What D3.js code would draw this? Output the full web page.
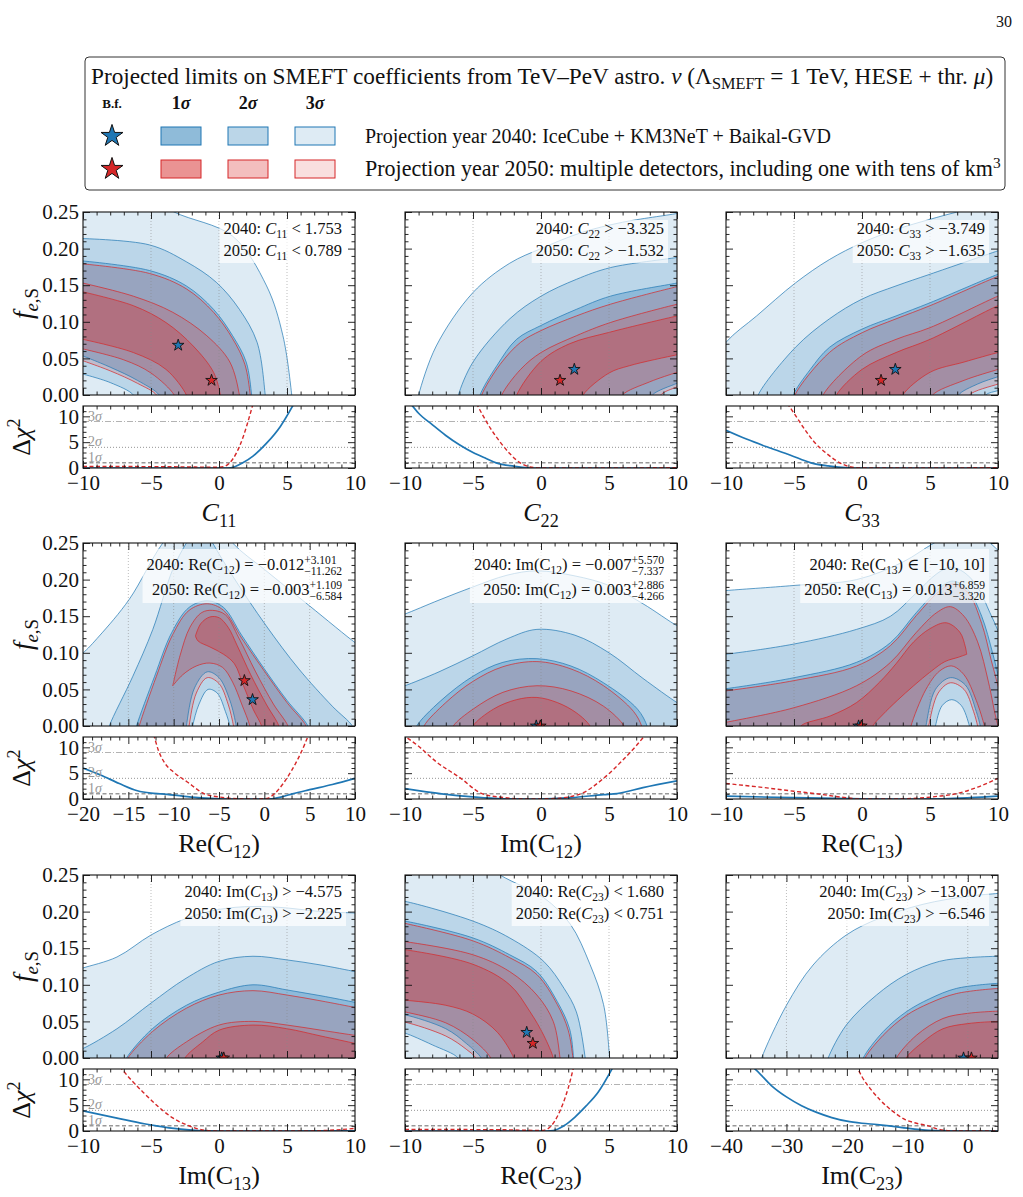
<!DOCTYPE html>
<html>
<head>
<meta charset="utf-8">
<script src="https://cdn.jsdelivr.net/npm/d3@7"></script>
<style>
  body { margin: 0; background: #fff; }
  svg text { font-family: "Liberation Serif", "DejaVu Serif", serif; white-space: pre; }
</style>
</head>
<body>
<script>
// ---- data: contour boundaries [coef, f_eS] ----
// u = upper boundary, l = lower boundary of each confidence region
const c11_b3u = [[-10.5,0.30],[-6,0.28],[-3.3,0.25],[1.0,0.217],[3.5,0.149],[4.7,0.081],[5.35,0],[5.4,-0.01]];
const c11_b2u = [[-10.5,0.214],[-5.1,0.205],[-2.4,0.182],[-0.2,0.154],[1.5,0.117],[2.8,0.072],[3.4,0],[3.45,-0.01]];
const c11_b2l = [[-10.5,0.031],[-8,0.017],[-6.3,0],[-6.2,-0.01]];
const c11_b1u = [[-10.5,0.184],[-5.1,0.17],[-2.4,0.149],[-0.4,0.117],[1.0,0.081],[2.0,0.045],[2.4,0],[2.45,-0.01]];
const c11_b1l = [[-10.5,0.057],[-8,0.038],[-6,0.02],[-4.4,0],[-4.3,-0.01]];
const c11_r3u = [[-10.5,0.18],[-5.1,0.166],[-2.4,0.145],[-0.4,0.113],[1.0,0.077],[1.9,0.042],[2.3,0],[2.35,-0.01]];
const c11_r3l = [[-10.5,0.05],[-8,0.033],[-6,0.016],[-4.6,0],[-4.5,-0.01]];
const c11_r2u = [[-10.5,0.155],[-6.3,0.135],[-3.4,0.113],[-0.9,0.081],[0.8,0.045],[1.5,0],[1.55,-0.01]];
const c11_r2l = [[-10.5,0.065],[-7,0.048],[-5,0.03],[-3.3,0],[-3.2,-0.01]];
const c11_r1u = [[-10.5,0.143],[-6.3,0.122],[-3.9,0.099],[-1.9,0.067],[-0.4,0.031],[0.1,0],[0.15,-0.01]];
const c11_r1l = [[-10.5,0.078],[-6.3,0.058],[-3.9,0.035],[-2.4,0],[-2.3,-0.01]];
const c11_star = [[-3.0,0.068],[-0.55,0.02]];
const c11_chiB = [[-10,0],[0.6,0],[1.2,0.3],[1.75,1],[2.5,2.3],[3.5,4.8],[4.5,8],[5.5,12.4]];
const c11_chiR = [[-10,0.3],[-4,0.25],[0,0.15],[0.4,0.3],[0.79,1],[1.3,3],[1.8,6.2],[2.2,9.6],[2.5,12.4]];

const c22_b3u = [[-9.1,-0.01],[-9.0,0],[-7.7,0.067],[-5,0.14],[-2.3,0.18],[0,0.2],[3,0.222],[6,0.236],[10,0.248],[10.5,0.25]];
const c22_b2u = [[-6.15,-0.01],[-6.07,0],[-5,0.045],[-2.3,0.104],[0,0.135],[2.6,0.158],[5.1,0.174],[10,0.188],[10.5,0.19]];
const c22_b1u = [[-4.55,-0.01],[-4.48,0],[-3.25,0.04],[-1.8,0.076],[0,0.095],[2.6,0.117],[5.1,0.135],[10,0.153],[10.5,0.155]];
const c22_b1l = [[8.1,-0.01],[8.2,0],[10,0.016],[10.5,0.02]];
const c22_r3u = [[-4.45,-0.01],[-4.36,0],[-3,0.042],[-1.5,0.072],[0,0.088],[2.6,0.108],[5.1,0.124],[10,0.148],[10.5,0.15]];
const c22_r3l = [[8.7,-0.01],[8.8,0],[10,0.011],[10.5,0.014]];
const c22_r2u = [[-2.95,-0.01],[-2.88,0],[-1.5,0.035],[0,0.058],[2.6,0.081],[5.1,0.099],[10,0.124],[10.5,0.126]];
const c22_r2l = [[5.9,-0.01],[6.0,0],[8,0.018],[10,0.031],[10.5,0.034]];
const c22_r1u = [[-1.85,-0.01],[-1.78,0],[0,0.046],[2.1,0.07],[5.1,0.086],[10,0.108],[10.5,0.11]];
const c22_r1l = [[3.0,-0.01],[3.1,0],[5,0.03],[6.5,0.04],[10,0.055],[10.5,0.057]];
const c22_star = [[2.45,0.035],[1.4,0.02]];
const c22_chiB = [[-9.6,12.5],[-9,10.6],[-8,8.4],[-7,6.3],[-6,4.5],[-5,3.0],[-4,1.8],[-3.3,1.0],[-2,0.35],[-1,0.05],[0,0],[10,0]];
const c22_chiR = [[-4.75,12.5],[-4.3,10.3],[-3.7,7.6],[-3,5],[-2.3,2.8],[-1.53,1.0],[-0.8,0.2],[0,0],[10,0.05]];

const c33_b3u = [[-12.5,-0.01],[-11.8,0.02],[-10,0.072],[-7.75,0.108],[-4.9,0.153],[-2.4,0.185],[0,0.208],[2.5,0.226],[5,0.24],[7,0.25],[10.5,0.265]];
const c33_b2u = [[-7.7,-0.01],[-7.63,0],[-4.9,0.065],[-2.4,0.104],[0,0.131],[2.5,0.149],[5,0.165],[10,0.197],[10.5,0.2]];
const c33_b2l = [[9.0,-0.01],[9.1,0],[10,0.006],[10.5,0.009]];
const c33_b1u = [[-5.1,-0.01],[-5.05,0],[-3.8,0.035],[-2.4,0.065],[0,0.09],[2.5,0.108],[5,0.126],[10,0.165],[10.5,0.168]];
const c33_b1l = [[7.0,-0.01],[7.1,0],[8.5,0.015],[10,0.025],[10.5,0.028]];
const c33_r3u = [[-5.0,-0.01],[-4.93,0],[-2.4,0.058],[0,0.085],[2.5,0.104],[5,0.122],[10,0.162],[10.5,0.165]];
const c33_r3l = [[7.8,-0.01],[7.9,0],[10,0.015],[10.5,0.018]];
const c33_r2u = [[-2.9,-0.01],[-2.85,0],[0,0.054],[2.5,0.076],[5,0.092],[10,0.135],[10.5,0.138]];
const c33_r2l = [[5.1,-0.01],[5.2,0],[7.5,0.02],[10,0.035],[10.5,0.038]];
const c33_r1u = [[-1.95,-0.01],[-1.87,0],[0,0.035],[2.5,0.058],[5,0.076],[10,0.122],[10.5,0.125]];
const c33_r1l = [[2.9,-0.01],[3.0,0],[5,0.031],[7.5,0.045],[10,0.058],[10.5,0.06]];
const c33_star = [[2.45,0.035],[1.4,0.02]];
const c33_chiB = [[-10,7.3],[-8.5,5.6],[-7,4.1],[-5.5,2.7],[-4.5,1.7],[-3.75,1.0],[-2.5,0.4],[-1,0.05],[0,0],[10,0]];
const c33_chiR = [[-5.5,12.5],[-5,10.6],[-4.3,7.8],[-3.5,5],[-2.6,2.8],[-1.63,1.0],[-0.8,0.2],[0,0],[10,0.05]];

const rc12_b3u = [[-20.5,0.097],[-20,0.100],[-18.2,0.123],[-14.9,0.173],[-11.2,0.25],[-7,0.31],[-3.5,0.25],[0,0.214],[5,0.164],[10,0.114],[10.5,0.11]];
const rc12_b2u = [[-17.3,-0.01],[-17.1,0],[-14.5,0.068],[-12.3,0.132],[-10.1,0.214],[-8.6,0.25],[-7,0.28],[-5.7,0.25],[-3.5,0.205],[0.2,0.137],[3.8,0.078],[7.5,0.027],[9.7,0],[9.9,-0.01]];
const rc12_b2l = [[-8.0,-0.01],[-7.9,0],[-7.2,0.03],[-6.2,0.05],[-5.2,0.045],[-4.3,0.02],[-3.8,0],[-3.7,-0.01]];
const rc12_b1u = [[-14.3,-0.01],[-14.1,0],[-12.1,0.068],[-10.2,0.128],[-8.3,0.162],[-6.3,0.171],[-4.5,0.162],[-2.5,0.124],[0,0.078],[2.5,0.035],[4.8,0],[4.9,-0.01]];
const rc12_b1l = [[-8.7,-0.01],[-8.6,0],[-7.7,0.052],[-6.3,0.074],[-5.0,0.066],[-3.8,0.035],[-3.1,0],[-3.0,-0.01]];
const rc12_r3u = [[-14.0,-0.01],[-13.8,0],[-11.9,0.068],[-10.1,0.125],[-8.3,0.158],[-6.3,0.167],[-4.5,0.158],[-2.5,0.12],[0,0.075],[2.5,0.032],[4.6,0],[4.7,-0.01]];
const rc12_r3l = [[-8.4,-0.01],[-8.3,0],[-7.5,0.045],[-6.3,0.066],[-5.0,0.058],[-4.0,0.03],[-3.4,0],[-3.3,-0.01]];
const rc12_r2u = [[-10.1,0.055],[-9.3,0.096],[-8.2,0.135],[-6.9,0.155],[-5.7,0.158],[-4.3,0.152],[-2.8,0.12],[-1.0,0.075],[1.0,0.03],[2.6,0],[2.7,-0.01]];
const rc12_r2l = [[-10.1,0.055],[-9.0,0.07],[-7.5,0.082],[-6.0,0.086],[-4.6,0.08],[-3.5,0.06],[-2.5,0.03],[-1.6,0],[-1.5,-0.01]];
const rc12_r1u = [[-7.6,0.123],[-7.0,0.14],[-6.0,0.149],[-5.0,0.148],[-4.0,0.135],[-3.0,0.11],[-1.5,0.07],[0.2,0.03],[1.6,0],[1.7,-0.01]];
const rc12_r1l = [[-7.6,0.123],[-7.3,0.116],[-6.0,0.108],[-4.5,0.098],[-3.3,0.085],[-2.3,0.055],[-1.2,0.022],[-0.3,0],[-0.2,-0.01]];
const rc12_star = [[-1.3,0.036],[-2.2,0.062]];
const rc12_chiB = [[-20,6.0],[-18,4.6],[-16,3.0],[-14,1.6],[-12.5,1.15],[-11.3,1.0],[-9,0.55],[-7,0.2],[-5,0.03],[-2,0],[0.5,0],[2,0.45],[3.1,1.0],[5,1.8],[7.5,2.8],[10,4.0]];
const rc12_chiR = [[-12.2,12.5],[-11.7,9.5],[-11,7],[-10,5.2],[-8.5,3.3],[-6.6,1.0],[-5,0.4],[-3,0.05],[-1,0],[0.3,0.1],[1.1,1.0],[2,2.8],[3,5.5],[4,8.8],[4.9,12.5]];

const ic12_b3u = [[-10.5,0.15],[-10,0.153],[-7.5,0.172],[-5,0.19],[-2.5,0.206],[-0.3,0.212],[2.5,0.205],[5,0.192],[7.5,0.167],[10,0.137],[10.5,0.133]];
const ic12_b2u = [[-10.5,0.052],[-10,0.055],[-7.5,0.074],[-5,0.096],[-2.5,0.119],[-0.3,0.132],[2.5,0.124],[5,0.1],[7.5,0.065],[10,0.032],[10.5,0.027]];
const ic12_b1u = [[-9.3,-0.01],[-9.14,0],[-7.4,0.034],[-5,0.068],[-2.8,0.087],[-0.3,0.092],[2.2,0.082],[4.6,0.059],[7.1,0.023],[7.8,0],[7.9,-0.01]];
const ic12_r3u = [[-8.7,-0.01],[-8.6,0],[-7,0.032],[-5,0.061],[-2.8,0.081],[-0.3,0.088],[2.2,0.078],[4.6,0.055],[6.8,0.02],[7.4,0],[7.5,-0.01]];
const ic12_r2u = [[-6.6,-0.01],[-6.45,0],[-5,0.023],[-2.8,0.046],[-0.3,0.055],[2.2,0.048],[4.6,0.027],[6.1,0],[6.2,-0.01]];
const ic12_r1u = [[-5.1,-0.01],[-5,0],[-3.5,0.023],[-1.8,0.036],[-0.3,0.039],[1.2,0.032],[2.6,0.018],[3.6,0],[3.7,-0.01]];
const ic12_star = [[-0.35,0.0],[-0.05,0.0]];
const ic12_chiB = [[-10,2.0],[-7.3,1.0],[-5,0.4],[-2.8,0.05],[-0.3,0],[2.2,0.25],[4.6,0.85],[5.6,1.05],[7.5,2.2],[10,3.5]];
const ic12_chiR = [[-10.2,12.5],[-9,10.2],[-7.7,7.2],[-6,4.2],[-4.3,1.0],[-2.8,0.3],[-1,0],[1,0.1],[2.9,1.0],[4.6,4.0],[6,7.5],[7,10.3],[7.7,12.5]];

const rc13_b3u = [[-10.5,0.184],[-10,0.185],[-5,0.192],[-0.4,0.2],[3,0.224],[5.3,0.25],[7,0.265],[9,0.255],[10,0.24],[10.5,0.23]];
const rc13_b2u = [[-10.5,0.097],[-10,0.098],[-5,0.112],[-0.4,0.132],[2.1,0.15],[4,0.182],[5.5,0.208],[6.5,0.217],[7.5,0.21],[8.5,0.19],[9.4,0.155],[10,0.13],[10.5,0.1]];
const rc13_b2l = [[5.3,-0.01],[5.4,0],[5.9,0.028],[6.6,0.036],[7.3,0.028],[7.9,0],[8.0,-0.01]];
const rc13_b1u = [[-10.5,0.05],[-10,0.051],[-5,0.066],[-0.4,0.087],[2.1,0.114],[4,0.155],[5.8,0.19],[6.7,0.198],[7.8,0.186],[8.8,0.15],[9.6,0.1],[10,0.07],[10.5,0.03]];
const rc13_b1l = [[4.6,-0.01],[4.7,0],[5.4,0.05],[6.5,0.066],[7.6,0.056],[8.4,0.02],[8.7,0],[8.8,-0.01]];
const rc13_r3u = [[-10.5,0.047],[-10,0.048],[-5,0.062],[-0.4,0.082],[2.1,0.11],[4,0.151],[5.8,0.186],[6.7,0.194],[7.8,0.182],[8.8,0.14],[9.5,0.09],[10,0.055],[10.5,0.02]];
const rc13_r3l = [[4.8,-0.01],[4.9,0],[5.6,0.045],[6.5,0.059],[7.5,0.05],[8.2,0.02],[8.5,0],[8.6,-0.01]];
const rc13_r2u = [[-10.5,0.003],[-10,0.005],[-5,0.025],[-0.4,0.055],[2.1,0.087],[4,0.128],[5.5,0.155],[6.5,0.163],[7.5,0.15],[8.5,0.115],[9.3,0.06],[9.8,0.015],[10,0],[10.1,-0.01]];
const rc13_r2l = [[3.5,-0.01],[3.6,0],[4.7,0.05],[5.7,0.075],[6.6,0.082],[7.5,0.07],[8.4,0.035],[9.0,0],[9.1,-0.01]];
const rc13_r1u = [[-4.6,-0.01],[-4.5,0],[-2.3,0.014],[-0.4,0.032],[1.3,0.06],[2.5,0.085],[3.8,0.115],[5,0.133],[6.2,0.141],[7.2,0.128],[7.6,0.108],[7.7,0.098]];
const rc13_r1l = [[0.7,-0.01],[0.8,0],[1.5,0.015],[2.6,0.035],[3.8,0.055],[5.1,0.075],[6.1,0.088],[7.1,0.094],[7.7,0.098]];
const rc13_star = [[-0.25,0.0],[-0.05,0.0]];
const rc13_chiB = [[-10,0.55],[-5,0.25],[0,0.05],[3,0],[6,0.05],[8,0.25],[10,0.55]];
const rc13_chiR = [[-10,3.0],[-7.5,2.3],[-5,1.5],[-3.3,1.0],[-1.5,0.35],[0,0],[2,0],[4,0.15],[5.5,0.5],[6.9,1.0],[8.5,2.3],[10,4.0]];

const ic13_b3u = [[-10.5,0.12],[-10,0.123],[-7.5,0.138],[-5,0.168],[-2.5,0.19],[0,0.203],[2.5,0.207],[5,0.205],[7.5,0.2],[10,0.198],[10.5,0.197]];
const ic13_b2u = [[-10.5,0.01],[-10,0.013],[-7.5,0.04],[-5,0.075],[-2.5,0.108],[0,0.132],[2.5,0.139],[5,0.134],[7.5,0.127],[10,0.118],[10.5,0.116]];
const ic13_b1u = [[-7.0,-0.01],[-6.8,0],[-4.9,0.04],[-2.4,0.072],[0,0.09],[2.5,0.1],[5,0.093],[7.5,0.085],[10,0.076],[10.5,0.074]];
const ic13_r3u = [[-6.9,-0.01],[-6.7,0],[-4.9,0.036],[-2.4,0.068],[0,0.086],[2.5,0.092],[5,0.086],[7.5,0.078],[10,0.069],[10.5,0.067]];
const ic13_r2u = [[-4.0,-0.01],[-3.86,0],[-2.4,0.022],[0,0.045],[2.5,0.05],[5,0.045],[7.5,0.038],[10,0.031],[10.5,0.03]];
const ic13_r1u = [[-2.6,-0.01],[-2.5,0],[-1.2,0.022],[0,0.038],[2.5,0.045],[5,0.04],[7.5,0.03],[10,0.02],[10.5,0.018]];
const ic13_star = [[0.2,0.0],[0.35,0.0]];
const ic13_chiB = [[-10,3.9],[-7.5,2.5],[-5.5,1.4],[-4.6,1.0],[-3,0.4],[-1.5,0.08],[0,0],[5,0],[10,0.05]];
const ic13_chiR = [[-7.3,12.5],[-6.5,10],[-5.5,7.3],[-4.5,4.8],[-3.5,2.7],[-2.2,1.0],[-1.2,0.2],[0,0],[6,0],[8.5,0.2],[10,0.5]];

const rc23_b3u = [[-10.5,0.31],[-6,0.29],[-3,0.25],[0.2,0.219],[2.15,0.183],[3.6,0.128],[4.6,0.073],[5.05,0],[5.1,-0.01]];
const rc23_b2u = [[-10.5,0.215],[-10,0.214],[-5,0.187],[-2.3,0.164],[0.2,0.132],[1.7,0.095],[2.6,0.063],[3.25,0],[3.3,-0.01]];
const rc23_b2l = [[-10.5,0.036],[-10,0.034],[-8,0.018],[-6.1,0],[-6.0,-0.01]];
const rc23_b1u = [[-10.5,0.188],[-10,0.187],[-5,0.164],[-2.3,0.141],[-0.3,0.118],[1.2,0.077],[2.1,0.04],[2.4,0],[2.45,-0.01]];
const rc23_b1l = [[-10.5,0.06],[-10,0.059],[-7,0.04],[-5.5,0.02],[-4.4,0],[-4.3,-0.01]];
const rc23_r3u = [[-10.5,0.186],[-10,0.184],[-5,0.16],[-2.3,0.137],[-0.3,0.114],[1.2,0.073],[2.0,0.038],[2.35,0],[2.4,-0.01]];
const rc23_r3l = [[-10.5,0.05],[-10,0.049],[-7,0.03],[-5.5,0.012],[-4.8,0],[-4.7,-0.01]];
const rc23_r2u = [[-10.5,0.16],[-10,0.159],[-5,0.141],[-2.3,0.118],[-0.3,0.086],[0.9,0.05],[1.4,0],[1.45,-0.01]];
const rc23_r2l = [[-10.5,0.065],[-10,0.063],[-7,0.048],[-5,0.025],[-3.7,0],[-3.6,-0.01]];
const rc23_r1u = [[-10.5,0.149],[-10,0.148],[-5,0.128],[-2.3,0.1],[-0.8,0.063],[0.2,0.031],[0.9,0],[0.95,-0.01]];
const rc23_r1l = [[-10.5,0.08],[-10,0.079],[-7,0.072],[-5,0.06],[-3.2,0.035],[-2.0,0],[-1.9,-0.01]];
const rc23_star = [[-1.05,0.035],[-0.6,0.02]];
const rc23_chiB = [[-10,0],[0,0],[0.9,0.1],[1.68,1.0],[2.5,2.7],[3.3,4.8],[4.2,7.5],[5.3,12.4]];
const rc23_chiR = [[-10,0.3],[-3,0.25],[0,0.1],[0.4,0.3],[0.75,1.0],[1.2,2.8],[1.6,5.2],[2.0,8.3],[2.4,12.4]];

const ic23_b3u = [[-34.4,-0.01],[-34.1,0],[-30,0.072],[-25.6,0.127],[-20.1,0.168],[-14.6,0.191],[-7.4,0.21],[0,0.221],[5,0.225],[5.5,0.226]];
const ic23_b2u = [[-23.4,-0.01],[-23.1,0],[-20.1,0.045],[-15.1,0.086],[-10.2,0.114],[-4.7,0.132],[0,0.137],[5,0.139],[5.5,0.139]];
const ic23_b1u = [[-17.6,-0.01],[-17.3,0],[-14,0.036],[-10.2,0.063],[-6.3,0.081],[-1.9,0.095],[5,0.102],[5.5,0.102]];
const ic23_r3u = [[-17.3,-0.01],[-17,0],[-14,0.031],[-10.2,0.058],[-6.3,0.075],[-1.9,0.088],[5,0.095],[5.5,0.095]];
const ic23_r2u = [[-12.1,-0.01],[-11.8,0],[-8.5,0.031],[-4.1,0.054],[0,0.061],[5,0.064],[5.5,0.064]];
const ic23_r1u = [[-10.5,-0.01],[-10.2,0],[-7.4,0.022],[-4.1,0.04],[0,0.047],[5,0.05],[5.5,0.05]];
const ic23_star = [[-0.7,0.0],[0.6,0.0]];
const ic23_chiB = [[-36,12.8],[-35,11.8],[-32.5,8.8],[-30,6.6],[-27.5,4.9],[-25,3.6],[-22.5,2.6],[-20,1.9],[-17.5,1.5],[-15,1.25],[-13,1.0],[-10,0.55],[-7.5,0.22],[-5,0.07],[-2,0],[5,0]];
const ic23_chiR = [[-18.5,12.8],[-17.5,10.5],[-16,8.0],[-14.5,6.0],[-12.5,3.9],[-10.5,2.3],[-8.5,1.5],[-6.55,1.0],[-5,0.4],[-3,0.05],[-1,0],[5,0]];

// ---- text: [string, kind]  kind: "" normal, i italic, _ subscript, ss stacked sup|sub ----
const c11_note = [[["2040: "],["C","i"],["11","_"],[" < 1.753"]], [["2050: "],["C","i"],["11","_"],[" < 0.789"]]];
const c22_note = [[["2040: "],["C","i"],["22","_"],[" > −3.325"]], [["2050: "],["C","i"],["22","_"],[" > −1.532"]]];
const c33_note = [[["2040: "],["C","i"],["33","_"],[" > −3.749"]], [["2050: "],["C","i"],["33","_"],[" > −1.635"]]];
const rc12_note = [[["2040: Re("],["C"],["12","_"],[") = −0.012"],["+3.101|−11.262","ss"]], [["2050: Re("],["C"],["12","_"],[") = −0.003"],["+1.109|−6.584","ss"]]];
const ic12_note = [[["2040: Im("],["C"],["12","_"],[") = −0.007"],["+5.570|−7.337","ss"]], [["2050: Im("],["C"],["12","_"],[") = 0.003"],["+2.886|−4.266","ss"]]];
const rc13_note = [[["2040: Re("],["C"],["13","_"],[") ∈ [−10, 10]"]], [["2050: Re("],["C"],["13","_"],[") = 0.013"],["+6.859|−3.320","ss"]]];
const ic13_note = [[["2040: Im("],["C","i"],["13","_"],[") > −4.575"]], [["2050: Im("],["C","i"],["13","_"],[") > −2.225"]]];
const rc23_note = [[["2040: Re("],["C","i"],["23","_"],[") < 1.680"]], [["2050: Re("],["C","i"],["23","_"],[") < 0.751"]]];
const ic23_note = [[["2040: Im("],["C","i"],["23","_"],[") > −13.007"]], [["2050: Im("],["C","i"],["23","_"],[") > −6.546"]]];

const xlabels = [
  [["C","i"],["11","_"]], [["C","i"],["22","_"]], [["C","i"],["33","_"]],
  [["Re("],["C"],["12","_"],[")"]], [["Im("],["C"],["12","_"],[")"]], [["Re("],["C"],["13","_"],[")"]],
  [["Im("],["C"],["13","_"],[")"]], [["Re("],["C"],["23","_"],[")"]], [["Im("],["C"],["23","_"],[")"]]
];
const xDomains = [[-10,10],[-10,10],[-10,10],[-20,10],[-10,10],[-10,10],[-10,10],[-10,10],[-40,5]];
const xMajorStep = [5,5,5,5,5,5,5,5,10];
const xMinorStep = [1,1,1,1,1,1,1,1,2];
const sigmaLevels = [1, 4, 9];
const sigmaNames = ["1σ", "2σ", "3σ"];
const legendTitle = [["Projected limits on SMEFT coefficients from TeV–PeV astro. "],["ν","i"],[" (Λ"],["SMEFT","_"],[" = 1 TeV, HESE + thr. "],["μ","i"],[")"]];
const legendRows = [
  [["Projection year 2040: IceCube + KM3NeT + Baikal-GVD"]],
  [["Projection year 2050: multiple detectors, including one with tens of km"],["3","^"]]
];

const panels = [
  {b3:[c11_b3u,null], b2:[c11_b2u,c11_b2l], b1:[c11_b1u,c11_b1l], r3:[c11_r3u,c11_r3l], r2:[c11_r2u,c11_r2l], r1:[c11_r1u,c11_r1l], star:c11_star, chiB:c11_chiB, chiR:c11_chiR, note:c11_note},
  {b3:[c22_b3u,null], b2:[c22_b2u,null], b1:[c22_b1u,c22_b1l], r3:[c22_r3u,c22_r3l], r2:[c22_r2u,c22_r2l], r1:[c22_r1u,c22_r1l], star:c22_star, chiB:c22_chiB, chiR:c22_chiR, note:c22_note},
  {b3:[c33_b3u,null], b2:[c33_b2u,c33_b2l], b1:[c33_b1u,c33_b1l], r3:[c33_r3u,c33_r3l], r2:[c33_r2u,c33_r2l], r1:[c33_r1u,c33_r1l], star:c33_star, chiB:c33_chiB, chiR:c33_chiR, note:c33_note},
  {b3:[rc12_b3u,null], b2:[rc12_b2u,rc12_b2l], b1:[rc12_b1u,rc12_b1l], r3:[rc12_r3u,rc12_r3l], r2:[rc12_r2u,rc12_r2l], r1:[rc12_r1u,rc12_r1l], star:rc12_star, chiB:rc12_chiB, chiR:rc12_chiR, note:rc12_note},
  {b3:[ic12_b3u,null], b2:[ic12_b2u,null], b1:[ic12_b1u,null], r3:[ic12_r3u,null], r2:[ic12_r2u,null], r1:[ic12_r1u,null], star:ic12_star, chiB:ic12_chiB, chiR:ic12_chiR, note:ic12_note},
  {b3:[rc13_b3u,null], b2:[rc13_b2u,rc13_b2l], b1:[rc13_b1u,rc13_b1l], r3:[rc13_r3u,rc13_r3l], r2:[rc13_r2u,rc13_r2l], r1:[rc13_r1u,rc13_r1l], star:rc13_star, chiB:rc13_chiB, chiR:rc13_chiR, note:rc13_note},
  {b3:[ic13_b3u,null], b2:[ic13_b2u,null], b1:[ic13_b1u,null], r3:[ic13_r3u,null], r2:[ic13_r2u,null], r1:[ic13_r1u,null], star:ic13_star, chiB:ic13_chiB, chiR:ic13_chiR, note:ic13_note},
  {b3:[rc23_b3u,null], b2:[rc23_b2u,rc23_b2l], b1:[rc23_b1u,rc23_b1l], r3:[rc23_r3u,rc23_r3l], r2:[rc23_r2u,rc23_r2l], r1:[rc23_r1u,rc23_r1l], star:rc23_star, chiB:rc23_chiB, chiR:rc23_chiR, note:rc23_note},
  {b3:[ic23_b3u,null], b2:[ic23_b2u,null], b1:[ic23_b1u,null], r3:[ic23_r3u,null], r2:[ic23_r2u,null], r1:[ic23_r1u,null], star:ic23_star, chiB:ic23_chiB, chiR:ic23_chiR, note:ic23_note}
];

// ---- layout ----
var W = 1023, H = 1197;
var colX = [83, 405, 726], rowY = [212, 543, 875];
var PW = 272, PH = 183, GAP = 11, CH = 62;
var BLUE = "#1f77b4", RED = "#d62728";
var TICKFONT = 21;

var svg = d3.select("body").append("svg").attr("width", W).attr("height", H);

// rich text helper, returns group and its width
function rich(parent, segs, size) {
    var g = parent.append("g");
    var cx = 0;
    segs.forEach(function (s) {
        var t = s[0], k = s[1] || "";
        if (k === "ss") {
            var parts = t.split("|");
            var a = g.append("text").attr("x", cx).attr("y", -size * 0.36).attr("font-size", size * 0.7).text(parts[0]);
            var b = g.append("text").attr("x", cx).attr("y", size * 0.32).attr("font-size", size * 0.7).text(parts[1]);
            cx += Math.max(a.node().getComputedTextLength(), b.node().getComputedTextLength());
        } else {
            var sub = (k === "_" || k === "_i");
            var small = sub || k === "^";
            var el = g.append("text").attr("x", cx)
                .attr("y", sub ? size * 0.22 : (k === "^" ? -size * 0.38 : 0))
                .attr("font-size", small ? size * 0.7 : size)
                .attr("font-style", (k === "i" || k === "bi" || k === "_i") ? "italic" : null)
                .attr("font-weight", (k === "b" || k === "bi") ? "bold" : null)
                .text(t);
            cx += el.node().getComputedTextLength();
        }
    });
    return {g: g, w: cx};
}

function fitRich(parent, segs, target) {
    var probe = rich(parent, segs, 20);
    var size = 20 * target / probe.w;
    probe.g.remove();
    return rich(parent, segs, size);
}

// page number
svg.append("text").attr("x", 1012).attr("y", 27).attr("text-anchor", "end").attr("font-size", 16).attr("fill", "#111").text("30");

// ---- legend ----
var leg = svg.append("g");
leg.append("rect").attr("x", 85).attr("y", 57).attr("width", 920).attr("height", 133).attr("rx", 4)
    .attr("fill", "white").attr("stroke", "#333").attr("stroke-width", 1);
var tt = fitRich(leg, legendTitle, 903);
tt.g.attr("transform", "translate(91,84)").attr("fill", "#111");

var hdr = rich(leg, [["B.f.", "b"]], 13);
hdr.g.attr("transform", "translate(" + (112 - hdr.w / 2) + ",108)").attr("fill", "#111");
var alphas = [0.5, 0.3, 0.15];
var swX = [181, 248, 315];
sigmaNames.forEach(function (s, i) {
    var r = rich(leg, [[s.charAt(0), "b"], [s.charAt(1), "bi"]], 18);
    r.g.attr("transform", "translate(" + (swX[i] - r.w / 2) + ",109)").attr("fill", "#111");
});
var starBig = d3.symbol().type(d3.symbolStar).size(150);
[BLUE, RED].forEach(function (c, j) {
    var cy = 136 + j * 33;
    leg.append("path").attr("d", starBig()).attr("transform", "translate(112," + cy + ")")
        .attr("fill", c).attr("stroke", "#111").attr("stroke-width", 1);
    alphas.forEach(function (a, i) {
        leg.append("rect").attr("x", swX[i] - 20).attr("y", cy - 9).attr("width", 40).attr("height", 18)
            .attr("fill", c).attr("fill-opacity", a).attr("stroke", c).attr("stroke-width", 1);
    });
});
var row2 = fitRich(leg, legendRows[1], 636);
var legSize = 20 * 636 / row2.w;
row2.g.attr("transform", "translate(365,176)").attr("fill", "#111");
var row1 = rich(leg, legendRows[0], legSize);
row1.g.attr("transform", "translate(365,143)").attr("fill", "#111");

// ---- panels ----
var fmtX = d3.format("d"), fmtY = d3.format(".2f");
var curve = d3.curveCatmullRom.alpha(0.5);

function axesFor(g, x, y, x0, y0, w, h, xMaj, xMin, yMaj, yMin, xLab, yLab, yFmt) {
    var ax = g.append("g").attr("class", "axes");
    function tidy(sel) {
        sel.select(".domain").remove();
        sel.selectAll("line").attr("stroke", "#111").attr("stroke-width", 0.9);
        sel.attr("font-family", "Liberation Serif, serif").attr("font-size", TICKFONT).attr("fill", "#111");
        sel.selectAll("text").attr("fill", "#111");
    }
    ax.append("g").attr("transform", "translate(0," + (y0 + h) + ")")
        .call(d3.axisBottom(x).tickValues(xMaj).tickSizeInner(-7).tickSizeOuter(0).tickPadding(7).tickFormat(xLab ? fmtX : "")).call(tidy);
    ax.append("g").attr("transform", "translate(0," + (y0 + h) + ")")
        .call(d3.axisBottom(x).tickValues(xMin).tickSizeInner(-3.5).tickSizeOuter(0).tickFormat("")).call(tidy);
    ax.append("g").attr("transform", "translate(0," + y0 + ")")
        .call(d3.axisTop(x).tickValues(xMaj).tickSizeInner(-7).tickSizeOuter(0).tickFormat("")).call(tidy);
    ax.append("g").attr("transform", "translate(0," + y0 + ")")
        .call(d3.axisTop(x).tickValues(xMin).tickSizeInner(-3.5).tickSizeOuter(0).tickFormat("")).call(tidy);
    ax.append("g").attr("transform", "translate(" + x0 + ",0)")
        .call(d3.axisLeft(y).tickValues(yMaj).tickSizeInner(-7).tickSizeOuter(0).tickPadding(4).tickFormat(yLab ? yFmt : "")).call(tidy);
    ax.append("g").attr("transform", "translate(" + x0 + ",0)")
        .call(d3.axisLeft(y).tickValues(yMin).tickSizeInner(-3.5).tickSizeOuter(0).tickFormat("")).call(tidy);
    ax.append("g").attr("transform", "translate(" + (x0 + w) + ",0)")
        .call(d3.axisRight(y).tickValues(yMaj).tickSizeInner(-7).tickSizeOuter(0).tickFormat("")).call(tidy);
    ax.append("g").attr("transform", "translate(" + (x0 + w) + ",0)")
        .call(d3.axisRight(y).tickValues(yMin).tickSizeInner(-3.5).tickSizeOuter(0).tickFormat("")).call(tidy);
    ax.append("rect").attr("x", x0).attr("y", y0).attr("width", w).attr("height", h)
        .attr("fill", "none").attr("stroke", "#111").attr("stroke-width", 1.1);
}

function samePt(a, b) { return Math.abs(a[0] - b[0]) < 1e-9 && Math.abs(a[1] - b[1]) < 1e-9; }

panels.forEach(function (p, k) {
    var col = k % 3, row = Math.floor(k / 3);
    var x0 = colX[col], y0 = rowY[row], cy0 = y0 + PH + GAP;
    var xd = xDomains[k];
    var x = d3.scaleLinear().domain(xd).range([x0, x0 + PW]);
    var y = d3.scaleLinear().domain([0, 0.25]).range([y0 + PH, y0]);
    var yc = d3.scaleLinear().domain([0, 12]).range([cy0 + CH, cy0]);
    var xMaj = d3.range(xd[0], xd[1] + 1e-9, xMajorStep[k]);
    var xMin = d3.range(xd[0], xd[1] + 1e-9, xMinorStep[k]).filter(function (v) { return xMaj.indexOf(v) < 0; });
    var g = svg.append("g");

    // clip paths
    var clipTop = "clipT" + k, clipChi = "clipC" + k;
    var defs = g.append("defs");
    defs.append("clipPath").attr("id", clipTop).append("rect").attr("x", x0).attr("y", y0).attr("width", PW).attr("height", PH);
    defs.append("clipPath").attr("id", clipChi).append("rect").attr("x", x0).attr("y", cy0).attr("width", PW).attr("height", CH);

    // contour regions: area between upper and lower boundary, closed along the bottom
    var lg = d3.line().x(function (d) { return x(d[0]); }).y(function (d) { return y(d[1]); }).curve(curve);
    var yb = y(-0.05);
    function region(up, lo) {
        var a = up[up.length - 1], b = up[0];
        var s = lg(up);
        if (lo) {
            var la = lo[lo.length - 1], lb = lo[0];
            if (!samePt(a, la)) s += "L" + x(a[0]) + "," + yb + "L" + x(la[0]) + "," + yb;
            s += "L" + lg(lo.slice().reverse()).slice(1);
            if (!samePt(b, lb)) s += "L" + x(lb[0]) + "," + yb + "L" + x(b[0]) + "," + yb;
        } else {
            s += "L" + x(a[0]) + "," + yb + "L" + x(b[0]) + "," + yb;
        }
        return s + "Z";
    }
    var top = g.append("g").attr("clip-path", "url(#" + clipTop + ")");
    var order = [["b3", BLUE, 0.15], ["b2", BLUE, 0.1765], ["b1", BLUE, 0.2857],
                 ["r3", RED, 0.15], ["r2", RED, 0.1765], ["r1", RED, 0.2857]];
    order.forEach(function (o) {
        var c = p[o[0]];
        top.append("path").attr("d", region(c[0], c[1])).attr("fill", o[1]).attr("fill-opacity", o[2]).attr("stroke", "none");
    });
    order.forEach(function (o) {
        var c = p[o[0]];
        [c[0], c[1]].forEach(function (ln) {
            if (!ln) return;
            top.append("path").attr("d", lg(ln)).attr("fill", "none").attr("stroke", o[1])
                .attr("stroke-opacity", 0.7).attr("stroke-width", 1);
        });
    });
    // vertical grid
    top.selectAll(".vg").data(xMaj.filter(function (v) { return v > xd[0] && v < xd[1]; })).enter().append("line")
        .attr("x1", function (d) { return x(d); }).attr("x2", function (d) { return x(d); })
        .attr("y1", y0).attr("y2", y0 + PH)
        .attr("stroke", "#888").attr("stroke-opacity", 0.7).attr("stroke-width", 0.8).attr("stroke-dasharray", "1,2");
    // best fit stars
    var starSm = d3.symbol().type(d3.symbolStar).size(42);
    [BLUE, RED].forEach(function (c, j) {
        top.append("path").attr("d", starSm())
            .attr("transform", "translate(" + x(p.star[j][0]) + "," + y(p.star[j][1]) + ")")
            .attr("fill", c).attr("stroke", "#111").attr("stroke-width", 0.9);
    });

    // annotation
    var nfont = 16.5;
    var noteG = g.append("g").attr("fill", "#111");
    var scripted = p.note.some(function (l) { return l.some(function (s) { return s[1] === "ss"; }); });
    var bases = scripted ? [y0 + 27, y0 + 52] : [y0 + 22, y0 + 44];
    var lines = p.note.map(function (l) { return rich(noteG, l, nfont); });
    var right = x0 + PW - 13;
    var maxw = d3.max(lines, function (l) { return l.w; });
    lines.forEach(function (l, i) {
        l.g.attr("transform", "translate(" + (right - l.w) + "," + bases[i] + ")");
    });
    var boxTop = scripted ? y0 + 6 : y0 + 8, boxBot = scripted ? y0 + 60 : y0 + 51;
    noteG.insert("rect", ":first-child").attr("x", right - maxw - 4).attr("y", boxTop)
        .attr("width", maxw + 8).attr("height", boxBot - boxTop).attr("fill", "white").attr("fill-opacity", 0.7);

    axesFor(g, x, y, x0, y0, PW, PH, xMaj, xMin, d3.range(0, 0.2501, 0.05), d3.range(0, 0.2501, 0.01).filter(function (v, i) { return i % 5 !== 0; }), false, col === 0, fmtY);

    // ---- delta chi2 panel ----
    var chi = g.append("g").attr("clip-path", "url(#" + clipChi + ")");
    var dash = ["4,2.5", "1,2", "6,2,1,2"];
    var lcol = ["#555", "#888", "#aaa"];
    sigmaLevels.forEach(function (v, i) {
        chi.append("line").attr("x1", x0).attr("x2", x0 + PW).attr("y1", yc(v)).attr("y2", yc(v))
            .attr("stroke", lcol[i]).attr("stroke-width", 0.9).attr("stroke-dasharray", dash[i]);
    });
    var cl = d3.line().x(function (d) { return x(d[0]); }).y(function (d) { return yc(d[1]); }).curve(d3.curveMonotoneX);
    chi.append("path").attr("d", cl(p.chiB)).attr("fill", "none").attr("stroke", BLUE).attr("stroke-width", 1.7);
    chi.append("path").attr("d", cl(p.chiR)).attr("fill", "none").attr("stroke", RED).attr("stroke-width", 1.4).attr("stroke-dasharray", "4,2.5");
    if (col === 0) {
        sigmaLevels.forEach(function (v, i) {
            var s = rich(g, [[sigmaNames[i].charAt(0)], [sigmaNames[i].charAt(1), "i"]], 14);
            s.g.attr("transform", "translate(" + (x0 + 5) + "," + (yc(v) - 1) + ")").attr("fill", "#999");
        });
    }
    axesFor(g, x, yc, x0, cy0, PW, CH, xMaj, xMin, [0, 5, 10], d3.range(1, 12).filter(function (v) { return v % 5 !== 0; }), true, col === 0, fmtX);

    // axis titles
    var xl = rich(g, xlabels[k], 26);
    xl.g.attr("transform", "translate(" + (x0 + PW / 2 - xl.w / 2) + "," + (cy0 + CH + 53) + ")").attr("fill", "#111");
    if (col === 0) {
        var yt = svg.append("g").attr("transform", "translate(32," + (y0 + PH / 2) + ") rotate(-90)");
        var fl = rich(yt, [["f", "i"], ["e", "_i"], [",S", "_"]], 27);
        fl.g.attr("transform", "translate(" + (-fl.w / 2) + ",0)").attr("fill", "#111");
        var ct = svg.append("g").attr("transform", "translate(30," + (cy0 + CH / 2) + ") rotate(-90)");
        var dl = rich(ct, [["Δ"], ["χ", "i"], ["2", "^"]], 26);
        dl.g.attr("transform", "translate(" + (-dl.w / 2) + ",0)").attr("fill", "#111");
    }
});
</script>
</body>
</html>
